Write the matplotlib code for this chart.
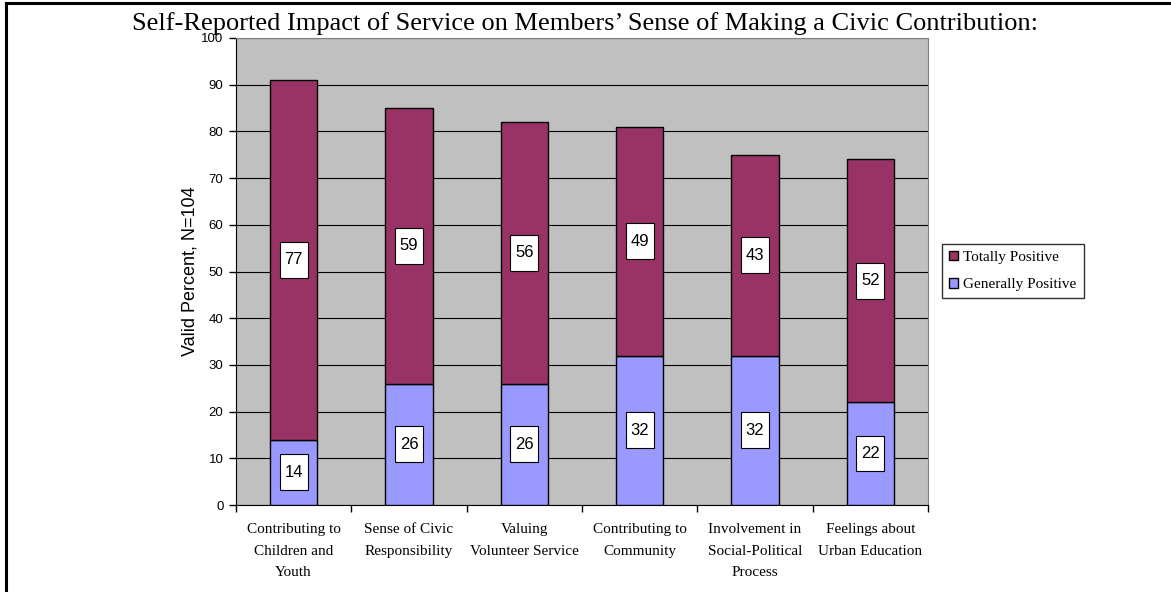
import matplotlib.pyplot as plt
from matplotlib.path import Path
from matplotlib.lines import Line2D
import numpy as np

# Survey results (valid percent, N=104)
categories = ['Contributing to\nChildren and\nYouth',
              'Sense of Civic\nResponsibility',
              'Valuing\nVolunteer Service',
              'Contributing to\nCommunity',
              'Involvement in\nSocial-Political\nProcess',
              'Feelings about\nUrban Education']
generally_positive = [14, 26, 26, 32, 32, 22]
totally_positive = [77, 59, 56, 49, 43, 52]

serif = 'Liberation Serif'
sans = 'Liberation Sans'
maroon = '#993366'
lavender = '#9999FF'


def tall_box(x0, y0, width, height, mutation_size):
    # label box with more room above and below than at the sides
    px = 0.28 * mutation_size
    py = 0.62 * mutation_size
    verts = [(x0 - px, y0 - py), (x0 + width + px, y0 - py),
             (x0 + width + px, y0 + height + py), (x0 - px, y0 + height + py),
             (x0 - px, y0 - py)]
    return Path(verts, closed=True)


fig = plt.figure(figsize=(11.71, 5.92), dpi=100)
ax = fig.add_axes([236 / 1171, 1 - 505 / 592, 692 / 1171, 467 / 592])
ax.set_facecolor('#C0C0C0')

x = np.arange(len(categories))
gp = np.array(generally_positive)
tp = np.array(totally_positive)
bw = 0.41
ax.bar(x, gp, bw, color=lavender, edgecolor='black', linewidth=1,
       label='Generally Positive', zorder=3)
ax.bar(x, tp, bw, bottom=gp, color=maroon, edgecolor='black', linewidth=1,
       label='Totally Positive', zorder=3)

# value labels in boxes at the middle of each segment
for xi, g, t in zip(x, gp, tp):
    for val, mid in ((g, g / 2), (t, g + t / 2)):
        ax.text(xi, mid, str(val), ha='center', va='center', fontsize=12,
                family=sans, zorder=5,
                bbox=dict(boxstyle=tall_box, fc='white', ec='black', lw=0.8))

ax.set_xlim(-0.5, len(categories) - 0.5)
ax.set_ylim(0, 100)
ax.set_yticks(range(0, 101, 10))
ax.yaxis.grid(True, color='black', linewidth=0.8, zorder=1)
ax.set_axisbelow(True)

ax.set_xticks(x)
ax.set_xticklabels(categories, family=serif, fontsize=11, linespacing=1.85)
ax.set_xticks(np.arange(-0.5, len(categories)), minor=True)
ax.tick_params(axis='x', which='major', length=0, pad=13)
ax.tick_params(axis='x', which='minor', length=5, width=1, direction='out')
ax.tick_params(axis='y', length=5, width=1, direction='out', pad=4)
for lab in ax.get_yticklabels():
    lab.set_family(sans)
    lab.set_fontsize(9.5)

for side in ('top', 'right'):
    ax.spines[side].set_color('#808080')
for side in ('left', 'bottom'):
    ax.spines[side].set_color('black')

ax.set_ylabel('Valid Percent, N=104', family=sans, fontsize=13, labelpad=2)

fig.text(0.5, 1 - 24 / 592, 'Self-Reported Impact of Service on Members\u2019 Sense of Making a Civic Contribution:',
         ha='center', va='center', family=serif, fontsize=19)

handles, labels = ax.get_legend_handles_labels()
leg = fig.legend(handles[::-1], labels[::-1], loc='center left',
                 bbox_to_anchor=(942 / 1171, 1 - 271 / 592),
                 prop={'family': serif, 'size': 11}, frameon=True,
                 fancybox=False, edgecolor='black', handlelength=0.6,
                 handleheight=0.6, handletextpad=0.35, borderpad=0.45,
                 labelspacing=0.95, borderaxespad=0)
leg.get_frame().set_linewidth(1)

# frame lines along the left and top edges
fig.add_artist(Line2D([6 / 1171, 6 / 1171], [0, 1 - 3 / 592], color='black', lw=2.2,
                      transform=fig.transFigure))
fig.add_artist(Line2D([6 / 1171, 1], [1 - 3 / 592, 1 - 3 / 592], color='black', lw=2.2,
                      transform=fig.transFigure))

fig.savefig('out.png', dpi=100)
